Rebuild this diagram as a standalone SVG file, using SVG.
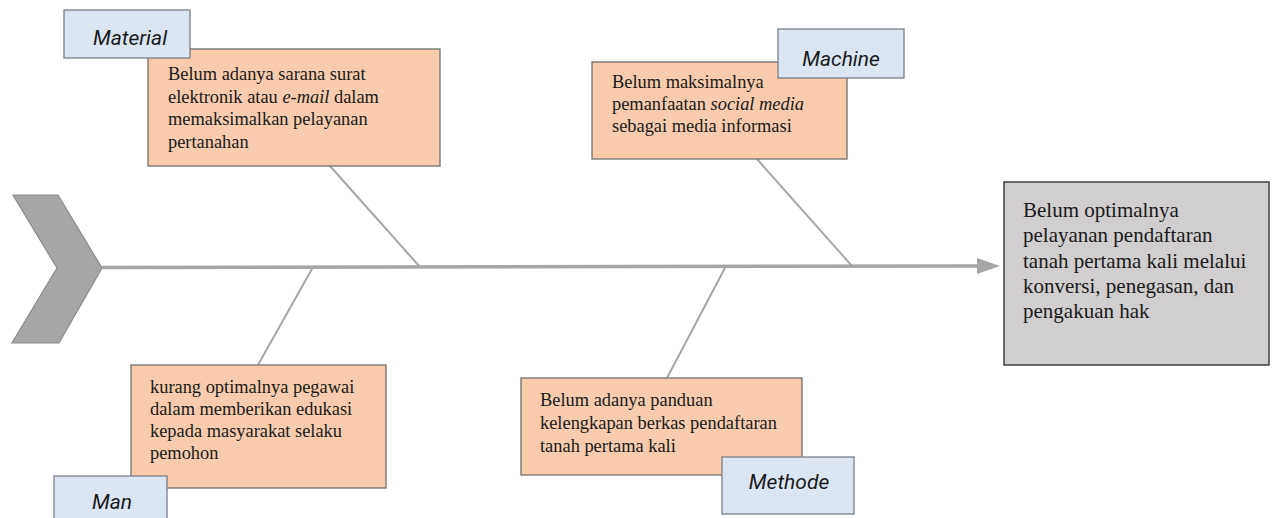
<svg xmlns="http://www.w3.org/2000/svg" width="1274" height="518" viewBox="0 0 1274 518">
<style>
.cause{fill:#f8cbad;stroke:#6f6f6f;stroke-width:1.3}
.label{fill:#dce6f3;stroke:#7a7f87;stroke-width:1.3}
.effect{fill:#d0cece;stroke:#3f3f3f;stroke-width:1.5}
.ct{font-family:"Liberation Serif","Times New Roman",serif;font-size:18.4px;fill:#1a1a1a}
.et{font-family:"Liberation Serif","Times New Roman",serif;font-size:21px;fill:#1a1a1a}
.lt{font-family:Roboto,"Open Sans",sans-serif;font-style:italic;font-size:21px;fill:#1a1a1a;text-anchor:middle}
.bone{stroke:#a6a6a6;stroke-width:2;fill:none}
.it{font-style:italic}
</style>
<rect width="1274" height="518" fill="#ffffff"/>
<g id="tail">
<polygon points="13,195 58,195 102,268 59,343 12,343 57,268" fill="#a6a6a6" stroke="#8a8a8a" stroke-width="1.2"/>
</g>
<g id="connectors">
<line x1="102" y1="267.5" x2="980" y2="266" stroke="#a6a6a6" stroke-width="3.5"/>
<polygon points="977,258 1000,266 977,274" fill="#a6a6a6"/>
<line class="bone" x1="330" y1="166" x2="420" y2="267"/>
<line class="bone" x1="757" y1="159" x2="852" y2="266"/>
<line class="bone" x1="258" y1="365" x2="313" y2="267"/>
<line class="bone" x1="667" y1="378" x2="726" y2="266"/>
</g>
<g id="material-cause">
<rect class="cause" x="148" y="49" width="292" height="117"/>
<text class="ct" x="168" y="80">Belum adanya sarana surat</text>
<text class="ct" x="168" y="102.5">elektronik atau <tspan class="it">e-mail</tspan> dalam</text>
<text class="ct" x="168" y="125">memaksimalkan pelayanan</text>
<text class="ct" x="168" y="147.5">pertanahan</text>
</g>
<g id="material-label">
<rect class="label" x="64" y="10" width="126" height="48"/>
<text class="lt" x="130" y="45">Material</text>
</g>
<g id="machine-cause">
<rect class="cause" x="592" y="62" width="255" height="97"/>
<text class="ct" x="612" y="88">Belum maksimalnya</text>
<text class="ct" x="612" y="110">pemanfaatan <tspan class="it">social media</tspan></text>
<text class="ct" x="612" y="132">sebagai media informasi</text>
</g>
<g id="machine-label">
<rect class="label" x="778" y="29" width="126" height="49"/>
<text class="lt" x="841" y="66">Machine</text>
</g>
<g id="man-cause">
<rect class="cause" x="131" y="365" width="255" height="123"/>
<text class="ct" x="150" y="393">kurang optimalnya pegawai</text>
<text class="ct" x="150" y="415">dalam memberikan edukasi</text>
<text class="ct" x="150" y="437">kepada masyarakat selaku</text>
<text class="ct" x="150" y="459">pemohon</text>
</g>
<g id="man-label">
<rect class="label" x="54" y="476" width="113" height="60"/>
<text class="lt" x="112" y="509">Man</text>
</g>
<g id="methode-cause">
<rect class="cause" x="521" y="378" width="281" height="97"/>
<text class="ct" x="540" y="406">Belum adanya panduan</text>
<text class="ct" x="540" y="429">kelengkapan berkas pendaftaran</text>
<text class="ct" x="540" y="452">tanah pertama kali</text>
</g>
<g id="methode-label">
<rect class="label" x="722" y="457" width="132" height="57"/>
<text class="lt" x="789" y="489">Methode</text>
</g>
<g id="effect">
<rect class="effect" x="1004" y="182" width="265" height="183"/>
<text class="et" x="1023" y="217">Belum optimalnya</text>
<text class="et" x="1023" y="242">pelayanan pendaftaran</text>
<text class="et" x="1023" y="268">tanah pertama kali melalui</text>
<text class="et" x="1023" y="293">konversi, penegasan, dan</text>
<text class="et" x="1023" y="318">pengakuan hak</text>
</g>
</svg>
